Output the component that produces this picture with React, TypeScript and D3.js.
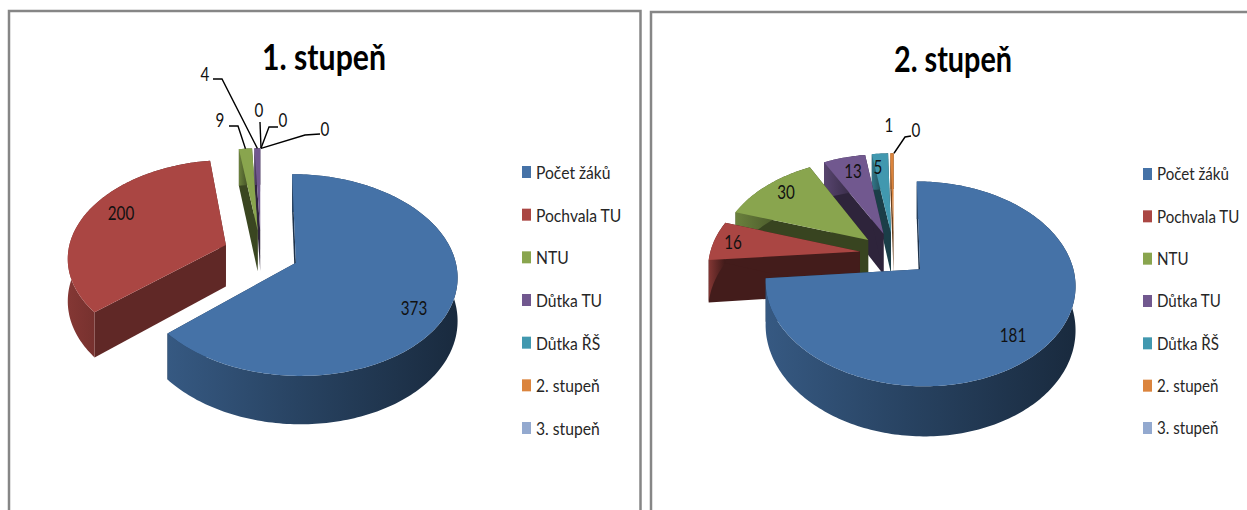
import React from "react";
import * as d3 from "d3";

const categories = ["Počet žáků", "Pochvala TU", "NTU", "Důtka TU", "Důtka ŘŠ", "2. stupeň", "3. stupeň"];
const colors = ["#4572A7", "#AA4643", "#89A54E", "#71588F", "#4198AF", "#DB843D", "#93A9CF"];
const valuesFirst = [373, 200, 9, 4, 0, 0, 0];
const valuesSecond = [181, 16, 30, 13, 5, 1, 0];

type Geo = { cx: number; cy: number; R: number; k: number; p: number; e: number; depth: number; shade: number[] };
type Lab = { x: number; y: number; leader?: [number, number][] };

const geoFirst: Geo = { cx: 261, cy: 253, R: 158, k: 97, p: 0.12, e: 0.24, depth: 42, shade: [2.3, 1.6, 2.4, 2.4, 2.4, 2.4, 2.4] };
const geoSecond: Geo = { cx: 894, cy: 254, R: 150, k: 96, p: 0.14, e: 0.23, depth: 42, shade: [2.3, 2.6, 2.5, 2.5, 2.5, 2.0, 2.0] };

const labelsFirst: Lab[] = [
  { x: 414, y: 308 },
  { x: 121, y: 213 },
  { x: 220, y: 120, leader: [[229, 126], [238, 126]] },
  { x: 205, y: 74, leader: [[213, 79], [222, 79]] },
  { x: 259, y: 110, leader: [[260, 122]] },
  { x: 283, y: 120, leader: [[278, 127], [269, 127]] },
  { x: 325, y: 129, leader: [[320, 134], [305, 135]] },
];
const labelsSecond: Lab[] = [
  { x: 1013, y: 335 },
  { x: 733, y: 242 },
  { x: 786, y: 192 },
  { x: 853, y: 171 },
  { x: 878, y: 167 },
  { x: 889, y: 125 },
  { x: 916, y: 130, leader: [[911, 136], [905, 137]] },
];

const FONT = "Lato,'Open Sans',sans-serif";
const color = d3.scaleOrdinal<number, string>().domain(d3.range(colors.length)).range(colors);
const poly = d3.line<[number, number]>();

function Pie3D({ id, values, geo, labels }: { id: string; values: number[]; geo: Geo; labels: Lab[] }) {
  const arcs = d3.pie<number>().sort(null).startAngle(0).endAngle(2 * Math.PI)(values);
  const { cx, cy, R, k, p, e, depth, shade } = geo;
  // ground-plane point (relative to un-exploded centre) -> screen
  const proj = (u: number, v: number, down = 0): [number, number] => {
    const s = 1 / (1 - p * v);
    return [cx + R * u * s, cy + k * v * s + down * depth * s];
  };
  const slices = arcs.map((a, i) => {
    const mid = (a.startAngle + a.endAngle) / 2;
    const ox = e * Math.sin(mid);
    const oy = -e * Math.cos(mid);
    const pt = (ang: number, r: number, down = 0) =>
      proj(ox + r * Math.sin(ang), oy - r * Math.cos(ang), down);
    const n = Math.max(2, Math.ceil((a.endAngle - a.startAngle) / 0.02));
    const angles = d3.range(n + 1).map((j) => a.startAngle + ((a.endAngle - a.startAngle) * j) / n);
    return { i, a, mid, pt, angles };
  });
  // back to front painter's order
  const order = slices
    .filter((s) => s.a.endAngle > s.a.startAngle)
    .sort((x, y) => (x.i === 0 ? 1 : y.i === 0 ? -1 : y.i - x.i));
  return (
    <g>
      <defs>
        {colors.map((c, i) => (
          <linearGradient key={i} id={`${id}-g${i}`}>
            <stop offset="0" stopColor={d3.color(c)!.darker(0.7).formatHex()} />
            <stop offset="0.45" stopColor={d3.color(c)!.darker(1.5).formatHex()} />
            <stop offset="1" stopColor={d3.color(c)!.darker(2.8).formatHex()} />
          </linearGradient>
        ))}
      </defs>
      {order.map(({ i, pt, angles, a }) => {
        const wall = d3.color(color(i))!.darker(shade[i]).formatHex();
        const mk = (ang: number) =>
          poly([pt(ang, 0), pt(ang, 1), pt(ang, 1, 1), pt(ang, 0, 1)]) + "Z";
        const outer =
          poly([...angles.map((t) => pt(t, 1)), ...[...angles].reverse().map((t) => pt(t, 1, 1))]) + "Z";
        const top = poly([pt(0, 0), ...angles.map((t) => pt(t, 1))]) + "Z";
        return (
          <g key={i}>
            <path d={mk(a.startAngle)} fill={wall} />
            <path d={mk(a.endAngle)} fill={wall} />
            <path d={outer} fill={`url(#${id}-g${i})`} />
            <path d={top} fill={color(i)} />
          </g>
        );
      })}
      {slices.map(({ i, mid, pt }) => {
        const l = labels[i];
        const tip = pt(mid, 1);
        return (
          <g key={i}>
            {l.leader && (
              <path d={poly([...l.leader, tip]) ?? ""} fill="none" stroke="#000" strokeWidth={1.4} />
            )}
            <text
              transform={`translate(${l.x},${l.y}) scale(0.8,1)`}
              textAnchor="middle"
              dominantBaseline="central"
              fontFamily={FONT}
              fontSize={19}
              fill="#111"
            >
              {values[i]}
            </text>
          </g>
        );
      })}
    </g>
  );
}

function Legend({ x, ys, sx }: { x: number; ys: d3.ScalePoint<string>; sx: number }) {
  return (
    <g>
      {categories.map((c, i) => (
        <g key={c}>
          <rect x={x} y={ys(c)! - 6} width={9} height={12} fill={colors[i]} />
          <text
            transform={`translate(${x + 14},${ys(c)!}) scale(${sx},1)`}
            dominantBaseline="central"
            fontFamily={FONT}
            fontSize={18}
            fill="#262626"
          >
            {c}
          </text>
        </g>
      ))}
    </g>
  );
}

export default function App() {
  const ysFirst = d3.scalePoint<string>().domain(categories).range([172, 428]);
  const ysSecond = d3.scalePoint<string>().domain(categories).range([174, 428]);
  return (
    <svg
      width={1247}
      height={510}
      viewBox="0 0 1247 510"
      style={{ position: "absolute", left: 0, top: 0, background: "#fff" }}
    >
      <path d="M9 510V11H640.5V510" fill="none" stroke="#868686" strokeWidth={2.5} />
      <path d="M651 510V12H1248" fill="none" stroke="#868686" strokeWidth={2.5} />
      <text transform="translate(324,56) scale(0.84,1)" textAnchor="middle" dominantBaseline="central" fontFamily={FONT} fontWeight={700} fontSize={36} fill="#000">
        1. stupeň
      </text>
      <text transform="translate(953,58) scale(0.8,1)" textAnchor="middle" dominantBaseline="central" fontFamily={FONT} fontWeight={700} fontSize={36} fill="#000">
        2. stupeň
      </text>
      <Pie3D id="a" values={valuesFirst} geo={geoFirst} labels={labelsFirst} />
      <Pie3D id="b" values={valuesSecond} geo={geoSecond} labels={labelsSecond} />
      <Legend x={522} ys={ysFirst} sx={0.87} />
      <Legend x={1143} ys={ysSecond} sx={0.84} />
    </svg>
  );
}
